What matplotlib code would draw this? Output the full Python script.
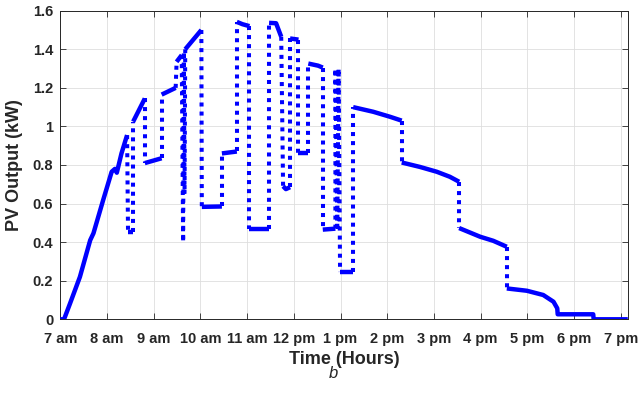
import matplotlib
matplotlib.use("Agg")
import matplotlib.pyplot as plt

plt.rcParams['font.family'] = ['Liberation Sans', 'DejaVu Sans']

# Time of day (hours, 24 h clock) and PV output (kW)
time_h = [7.00, 7.08, 7.21, 7.42, 7.64, 7.71, 7.92, 8.10, 8.17, 8.21, 8.31, 8.43,
          8.45, 8.56, 8.56, 8.81, 8.81, 9.17, 9.17, 9.47, 9.49, 9.60, 9.63, 9.645,
          9.66, 9.675, 10.02, 10.03, 10.46, 10.46, 10.78, 10.78, 10.90, 11.05, 11.05,
          11.47, 11.47, 11.62, 11.73, 11.77, 11.83, 11.92, 11.92, 12.10, 12.10, 12.31,
          12.31, 12.52, 12.62, 12.62, 12.89, 12.89, 12.93, 12.96, 12.99, 13.27, 13.27,
          13.70, 14.06, 14.31, 14.31, 14.70, 15.06, 15.34, 15.54, 15.54, 15.99, 16.27,
          16.56, 16.56, 16.99, 17.34, 17.56, 17.64, 17.65, 18.41, 18.42, 19.15]
pv_kw = [0.00, 0.00, 0.083, 0.22, 0.41, 0.446, 0.62, 0.765, 0.78, 0.76, 0.86, 0.955,
         0.455, 0.455, 1.025, 1.145, 0.81, 0.835, 1.165, 1.20, 1.335, 1.37, 0.40, 1.39,
         0.65, 1.40, 1.50, 0.583, 0.585, 0.86, 0.87, 1.542, 1.53, 1.52, 0.47,
         0.47, 1.537, 1.535, 1.465, 0.69, 0.675, 0.685, 1.456, 1.45, 0.86, 0.86,
         1.326, 1.315, 1.305, 0.465, 0.47, 1.30, 0.48, 1.30, 0.245, 0.245, 1.10,
         1.076, 1.05, 1.03, 0.813, 0.79, 0.765, 0.739, 0.713, 0.473, 0.428, 0.407,
         0.376, 0.16, 0.148, 0.126, 0.091, 0.057, 0.026, 0.026, 0.0, 0.0]

x_ticks = list(range(7, 20))
x_tick_labels = ['7 am', '8 am', '9 am', '10 am', '11 am', '12 pm', '1 pm',
                 '2 pm', '3 pm', '4 pm', '5 pm', '6 pm', '7 pm']
y_ticks = [0, 0.2, 0.4, 0.6, 0.8, 1.0, 1.2, 1.4, 1.6]
y_tick_labels = ['0', '0.2', '0.4', '0.6', '0.8', '1', '1.2', '1.4', '1.6']

W, H = 640, 398
fig = plt.figure(figsize=(W / 100, H / 100), dpi=100)
L, R, T, B = 60.3, 628.0, 10.7, 319.3
ax = fig.add_axes([L / W, 1 - B / H, (R - L) / W, (B - T) / H])

blue = '#0000ff'

# split into runs: gentle parts drawn solid, abrupt jumps drawn dotted
runs = []
cur_style = None
cur = []
for i in range(len(time_h) - 1):
    dt = time_h[i + 1] - time_h[i]
    dv = pv_kw[i + 1] - pv_kw[i]
    steep = dt <= 0 or abs(dv / dt) > 4
    style = 'dot' if steep else 'solid'
    if style != cur_style:
        if cur:
            runs.append((cur_style, cur))
        cur = [i, i + 1]
        cur_style = style
    else:
        cur.append(i + 1)
if cur:
    runs.append((cur_style, cur))

for style, idx in runs:
    xs = [time_h[k] for k in idx]
    ys = [pv_kw[k] for k in idx]
    if style == 'solid':
        ax.plot(xs, ys, color=blue, lw=3.2, solid_capstyle='butt',
                solid_joinstyle='round', zorder=3)
    else:
        ax.plot(xs, ys, color=blue, lw=2.9, linestyle=(0, (1, 1.25)),
                dash_capstyle='butt', zorder=3)

ax.set_xlim(7, 19.155)
ax.set_ylim(0, 1.6)
ax.set_xticks(x_ticks)
ax.set_xticklabels(x_tick_labels)
ax.set_yticks(y_ticks)
ax.set_yticklabels(y_tick_labels)
ax.grid(True, color='#dedede', lw=0.6)
ax.set_axisbelow(True)
for s in ax.spines.values():
    s.set_color('#262626')
    s.set_linewidth(0.7)
ax.tick_params(direction='in', top=True, right=True, length=4, width=0.6,
               color='#262626', labelsize=10.5, labelcolor='#262626')
ax.tick_params(axis='x', pad=9)
ax.tick_params(axis='y', pad=5)
for lab in ax.get_xticklabels() + ax.get_yticklabels():
    lab.set_fontweight('bold')

ax.set_xlabel('Time (Hours)', fontsize=13, fontweight='bold', color='#262626')
ax.xaxis.set_label_coords(0.5, -(359 - B) / (B - T))
ax.xaxis.label.set_va('center')
ax.set_ylabel('PV Output (kW)', fontsize=13, fontweight='bold', color='#262626')
ax.yaxis.set_label_coords((15 - L) / (R - L), 0.5)
ax.yaxis.label.set_va('center')

fig.text(333 / W, 1 - 374 / H, 'b', style='italic', fontsize=12,
         ha='center', va='center', color='#262626')

fig.savefig('out.png', dpi=100)
